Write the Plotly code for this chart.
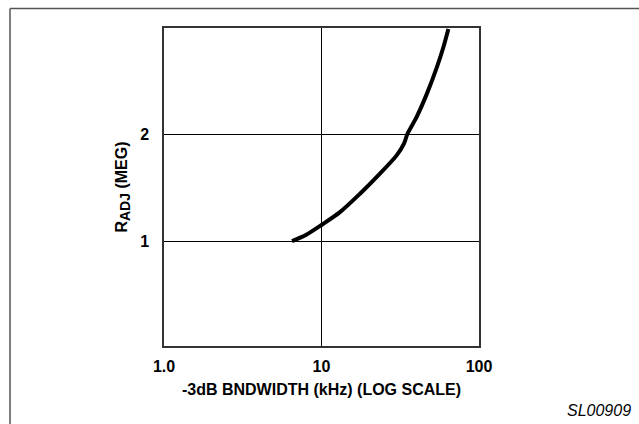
import plotly.graph_objects as go

# Curve data
bandwidth_khz = [6.5, 8.0, 10.1, 13.1, 17.5, 23.5, 30.0, 33.4, 35.1, 40.2, 46.5, 53.9, 59.4, 63.9]
r_adj_meg = [1.00, 1.06, 1.155, 1.27, 1.44, 1.63, 1.80, 1.91, 2.00, 2.16, 2.37, 2.62, 2.81, 2.98]

x_tick_vals = [1, 10, 100]
x_tick_text = ["1.0", "10", "100"]
y_tick_vals = [1, 2]
y_tick_text = ["1", "2"]

FONT = "Liberation Sans, Arial, sans-serif"
FS = 16

fig = go.Figure()
fig.add_trace(go.Scatter(
    x=bandwidth_khz, y=r_adj_meg, mode="lines",
    line=dict(color="black", width=4, shape="spline", smoothing=0.8),
    showlegend=False, hoverinfo="skip",
))

W, H = 639, 424
L, R, T, B = 164, 479, 28, 346
pw, ph = R - L, B - T

def px(xp):
    return (xp - L) / pw

def py(yp):
    return (B - yp) / ph

bold = dict(family=FONT, size=FS, color="black", weight="bold")

fig.update_layout(
    width=W, height=H,
    margin=dict(l=L, r=W - R, t=T, b=H - B, pad=0),
    paper_bgcolor="white", plot_bgcolor="white",
    font=dict(family=FONT, size=FS, color="black"),
    xaxis=dict(
        type="log", range=[0, 2],
        tickvals=x_tick_vals, ticktext=x_tick_text,
        tickfont=bold,
        ticks="", ticklabelstandoff=5,
        showgrid=True, gridcolor="black", gridwidth=1,
        showline=True, mirror=True, linecolor="#333", linewidth=1.5,
        zeroline=False,
        title=dict(text="-3dB BNDWIDTH (kHz) (LOG SCALE)", font=bold, standoff=10),
    ),
    yaxis=dict(
        range=[0.02, 2.99],
        tickvals=y_tick_vals, ticktext=y_tick_text,
        tickfont=bold,
        ticks="", ticklabelstandoff=10,
        showgrid=True, gridcolor="black", gridwidth=1,
        showline=True, mirror=True, linecolor="#333", linewidth=1.5,
        zeroline=False,
        title=dict(text="R<sub><span style='font-size:14px'>ADJ</span></sub> (MEG)",
                   font=bold, standoff=9),
    ),
    shapes=[
        dict(type="line", xref="paper", yref="paper",
             x0=px(10), y0=py(8.5), x1=px(W + 5), y1=py(8.5),
             line=dict(color="#555", width=1.5)),
        dict(type="line", xref="paper", yref="paper",
             x0=px(10), y0=py(8.5), x1=px(10), y1=py(H + 5),
             line=dict(color="#555", width=1.5)),
    ],
    annotations=[
        dict(text="SL00909", xref="paper", yref="paper",
             x=px(633), y=py(410), xanchor="right", yanchor="middle",
             showarrow=False,
             font=dict(family=FONT, size=FS, color="black", style="italic")),
    ],
)

fig.write_html("out.html", config={"displayModeBar": False},
               post_script="document.body.style.margin='0';")
